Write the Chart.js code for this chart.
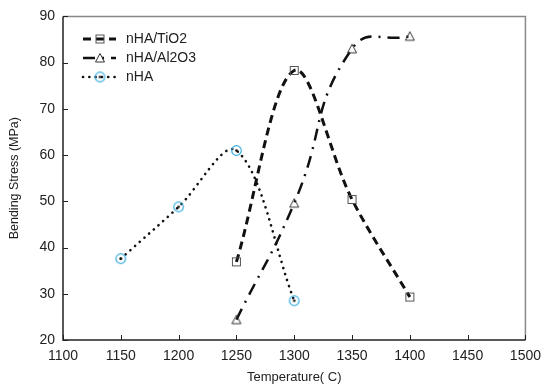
<!DOCTYPE html>
<html>
<head>
<meta charset="utf-8">
<script src="https://cdn.jsdelivr.net/npm/chart.js@4.4.0/dist/chart.umd.min.js"></script>
<style>
  body { margin: 0; background: #fff; }
  #wrap { width: 549px; height: 390px; }
</style>
</head>
<body>
<div id="wrap"><canvas id="myChart" width="549" height="390"></canvas></div>
<script>
// valores
const tempsTiO2 = [1250, 1300, 1350, 1400]
const valuesTiO2 = [36.9, 78.3, 50.4, 29.3]
const tempsAl2O3 = [1250, 1300, 1350, 1400]
const valuesAl2O3 = [24.4, 49.6, 83.0, 85.7]
const tempsNHA = [1150, 1200, 1250, 1300]
const valuesNHA = [37.6, 48.8, 61.0, 28.5]
const seriesNames = ['nHA/TiO2', 'nHA/Al2O3', 'nHA']
const xTicks = [1100, 1150, 1200, 1250, 1300, 1350, 1400, 1450, 1500]
const yTicks = [20, 30, 40, 50, 60, 70, 80, 90]

const fontFam = '"Liberation Sans", Arial, Helvetica, sans-serif'

function makeMarker(size, draw) {
    let c = document.createElement('canvas')
    c.width = size
    c.height = size
    draw(c.getContext('2d'))
    return c
}

const squareMark = makeMarker(11, (g) => {
    g.strokeStyle = '#555'
    g.lineWidth = 1
    g.strokeRect(1.5, 1.5, 8, 8)
})

const triMark = makeMarker(12, (g) => {
    g.strokeStyle = '#333'
    g.lineWidth = 1
    g.beginPath()
    g.moveTo(6, 1.5)
    g.lineTo(10.5, 10)
    g.lineTo(1.5, 10)
    g.closePath()
    g.stroke()
})

const circleMark = makeMarker(13, (g) => {
    g.strokeStyle = '#3aaee0'
    g.lineWidth = 1.2
    g.beginPath()
    g.arc(6.5, 6.5, 4.8, 0, Math.PI * 2)
    g.stroke()
    g.fillStyle = '#111'
    g.beginPath()
    g.arc(6.5, 6.5, 1.3, 0, Math.PI * 2)
    g.fill()
})

function toPoints(xs, ys) {
    return xs.map((x, i) => ({ x: x, y: ys[i] }))
}

// legenda e marcas de escala desenhadas a mao
const boxPlugin = {
    id: 'boxPlugin',
    afterDraw(chart) {
        let ctx = chart.ctx
        let a = chart.chartArea
        let xs = chart.scales.x
        let ys = chart.scales.y
        ctx.save()

        ctx.lineWidth = 1.5
        ctx.strokeStyle = '#888'
        ctx.beginPath()
        ctx.moveTo(a.left, a.top)
        ctx.lineTo(a.right, a.top)
        ctx.lineTo(a.right, a.bottom)
        ctx.stroke()
        ctx.strokeStyle = '#222'
        ctx.beginPath()
        ctx.moveTo(a.left, a.top)
        ctx.lineTo(a.left, a.bottom)
        ctx.lineTo(a.right, a.bottom)
        ctx.stroke()

        ctx.lineWidth = 1
        yTicks.forEach((v) => {
            let py = Math.round(ys.getPixelForValue(v)) + 0.5
            ctx.beginPath()
            ctx.moveTo(a.left, py)
            ctx.lineTo(a.left + 5, py)
            ctx.stroke()
        })
        xTicks.forEach((v) => {
            let px = Math.round(xs.getPixelForValue(v)) + 0.5
            ctx.beginPath()
            ctx.moveTo(px, a.bottom)
            ctx.lineTo(px, a.bottom - 5)
            ctx.stroke()
        })

        chart.data.datasets.forEach((ds, i) => {
            let y = 39 + i * 19
            ctx.strokeStyle = ds.borderColor
            ctx.lineWidth = ds.borderWidth
            ctx.lineCap = ds.borderCapStyle
            ctx.setLineDash(ds.borderDash)
            ctx.beginPath()
            ctx.moveTo(83, y)
            ctx.lineTo(116, y)
            ctx.stroke()
            ctx.setLineDash([])
            let m = ds.pointStyle
            ctx.drawImage(m, 100 - m.width / 2, y - m.height / 2)
            ctx.fillStyle = '#222'
            ctx.font = '14px ' + fontFam
            ctx.textBaseline = 'middle'
            ctx.fillText(ds.label, 126, y)
        })
        ctx.restore()
    }
}

const ctx = document.getElementById('myChart')

new Chart(ctx, {
    type: 'line',
    data: {
        datasets: [
            {
                label: seriesNames[0],
                data: toPoints(tempsTiO2, valuesTiO2),
                borderColor: '#111',
                borderWidth: 3,
                borderDash: [8, 5],
                borderCapStyle: 'butt',
                pointStyle: squareMark,
                tension: 0.34
            },
            {
                label: seriesNames[1],
                data: toPoints(tempsAl2O3, valuesAl2O3),
                borderColor: '#111',
                borderWidth: 2.5,
                borderDash: [12, 7, 2, 7],
                borderCapStyle: 'butt',
                pointStyle: triMark,
                tension: 0.5
            },
            {
                label: seriesNames[2],
                data: toPoints(tempsNHA, valuesNHA),
                borderColor: '#111',
                borderWidth: 2.6,
                borderDash: [0.1, 6.2],
                borderCapStyle: 'round',
                pointStyle: circleMark,
                tension: 0.34
            }
        ]
    },
    options: {
        responsive: false,
        animation: false,
        layout: { padding: { top: 15, right: 18, left: 0, bottom: 0 } },
        plugins: {
            legend: { display: false },
            tooltip: { enabled: false }
        },
        scales: {
            x: {
                type: 'linear',
                min: 1100,
                max: 1500,
                afterBuildTicks: (s) => { s.ticks = xTicks.map((v) => ({ value: v })) },
                afterFit: (s) => { s.height = 50 },
                grid: { display: false, drawTicks: false },
                border: { display: false },
                ticks: {
                    padding: 8,
                    color: '#222',
                    font: { size: 14, family: fontFam },
                    callback: (v) => String(v)
                },
                title: {
                    display: true,
                    text: 'Temperature( C)',
                    color: '#222',
                    font: { size: 13, family: fontFam },
                    padding: { top: 0, bottom: 5 }
                }
            },
            y: {
                min: 20,
                max: 90,
                afterBuildTicks: (s) => { s.ticks = yTicks.map((v) => ({ value: v })) },
                afterFit: (s) => { s.width = 63 },
                grid: { display: false, drawTicks: false },
                border: { display: false },
                ticks: {
                    padding: 8,
                    color: '#222',
                    font: { size: 14, family: fontFam },
                    callback: (v) => String(v)
                },
                title: {
                    display: true,
                    text: 'Bending Stress (MPa)',
                    color: '#222',
                    font: { size: 12.5, family: fontFam },
                    padding: { top: 7, bottom: 0 }
                }
            }
        }
    },
    plugins: [boxPlugin]
});
</script>
</body>
</html>
